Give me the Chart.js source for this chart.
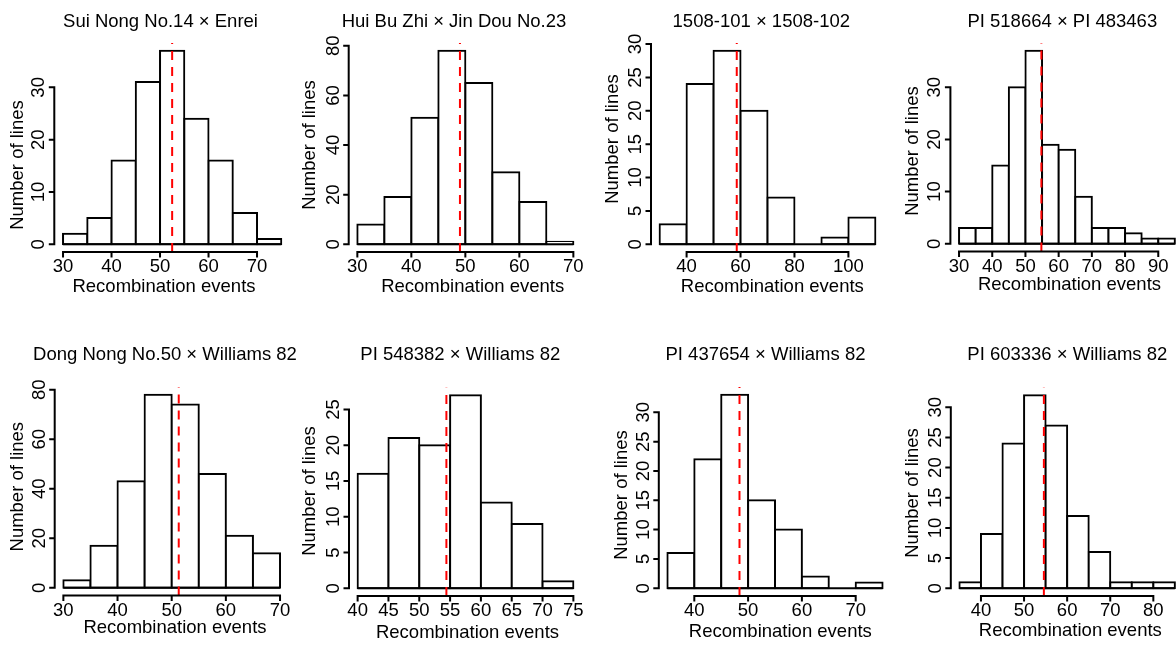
<!DOCTYPE html>
<html>
<head>
<meta charset="utf-8">
<script src="https://cdn.jsdelivr.net/npm/chart.js@4.4.1/dist/chart.umd.min.js"></script>
<style>
  html, body { margin: 0; padding: 0; background: #fff; }
  body { width: 1176px; height: 646px; overflow: hidden; position: relative; }
  canvas.panel { position: absolute; }
</style>
</head>
<body>
<script>
// --- data: recombination events per RIL population ---
const titles = [
  'Sui Nong No.14 × Enrei',
  'Hui Bu Zhi × Jin Dou No.23',
  '1508-101 × 1508-102',
  'PI 518664 × PI 483463',
  'Dong Nong No.50 × Williams 82',
  'PI 548382 × Williams 82',
  'PI 437654 × Williams 82',
  'PI 603336 × Williams 82'
];
const binStarts = [30, 30, 30, 30, 30, 40, 35, 35];
const binWidths = [5, 5, 10, 5, 5, 5, 5, 5];

const countsSuiNong = [2, 5, 16, 31, 37, 24, 16, 6, 1];
const countsHuiBuZhi = [8, 19, 51, 78, 65, 29, 17, 1];
const counts1508 = [3, 24, 29, 20, 7, 0, 1, 4];
const countsPI518664 = [3, 3, 15, 30, 37, 19, 18, 9, 3, 3, 2, 1, 1];
const countsDongNong = [3, 17, 43, 78, 74, 46, 21, 14];
const countsPI548382 = [16, 21, 20, 27, 12, 9, 1];
const countsPI437654 = [6, 22, 33, 15, 10, 2, 0, 1];
const countsPI603336 = [1, 9, 24, 32, 27, 12, 6, 1, 1, 1];
const counts = [countsSuiNong, countsHuiBuZhi, counts1508, countsPI518664,
                countsDongNong, countsPI548382, countsPI437654, countsPI603336];

// population means (dashed red line)
const means = [52.5, 49.0, 58.6, 54.8, 51.3, 54.4, 48.4, 54.6];

const xTicks = [
  [30, 40, 50, 60, 70],
  [30, 40, 50, 60, 70],
  [40, 60, 80, 100],
  [30, 40, 50, 60, 70, 80, 90],
  [30, 40, 50, 60, 70],
  [40, 45, 50, 55, 60, 65, 70, 75],
  [40, 50, 60, 70],
  [40, 50, 60, 70, 80]
];
const yTicks = [
  [0, 10, 20, 30],
  [0, 20, 40, 60, 80],
  [0, 5, 10, 15, 20, 25, 30],
  [0, 10, 20, 30],
  [0, 20, 40, 60, 80],
  [0, 5, 10, 15, 20, 25],
  [0, 5, 10, 15, 20, 25, 30],
  [0, 5, 10, 15, 20, 25, 30]
];

// --- layout (page pixels) ---
// plot region [left, top, right, bottom]
const plotBoxes = [
  [54.3, 43, 290, 252], [348.7, 43, 582, 252], [651, 43, 884, 252], [950.4, 43, 1183.5, 251.5],
  [54.7, 387, 288.7, 595.5], [349, 387.5, 582, 596], [658.8, 387, 891.2, 596], [950.8, 387.5, 1183.5, 596]
];
const rowTops = [0, 0, 0, 0, 323, 323, 323, 323];
const titlePos = [[160.5, 26.5], [454, 26.5], [761.3, 26.5], [1062.3, 26.5],
                  [165, 360.3], [460.3, 360.3], [765.5, 360.3], [1067.3, 360.3]];
const xLabelPos = [[164, 291.5], [472.7, 291.5], [772.3, 291.5], [1069.5, 290],
                   [175, 633.3], [467.5, 638.3], [780.3, 636.7], [1070.3, 636]];
const yLabelPos = [[18.3, 165], [310, 145], [612.7, 139], [913.3, 151],
                   [18.3, 486.7], [310, 491], [621.7, 495], [913.3, 493]];

const FONT = '18.5px "Liberation Sans", Arial, sans-serif';
const TICK_LEN = 4.5;

// base-R style axes and labels
const rAxes = {
  id: 'rAxes',
  afterDatasetsDraw(chart, args, opts) {
    const p = opts.panel;
    const { ctx, chartArea } = chart;
    const xs = chart.scales.x, ys = chart.scales.y;
    ctx.save();
    ctx.strokeStyle = '#000';
    ctx.fillStyle = '#000';
    ctx.lineWidth = 2;
    ctx.lineCap = 'square';
    ctx.font = FONT;

    // x axis
    const ab = chartArea.bottom;
    const xp = xs.ticks.map(t => xs.getPixelForValue(t.value));
    ctx.beginPath();
    ctx.moveTo(xp[0], ab);
    ctx.lineTo(xp[xp.length - 1], ab);
    xp.forEach(px => { ctx.moveTo(px, ab); ctx.lineTo(px, ab + TICK_LEN); });
    ctx.stroke();
    ctx.textAlign = 'center';
    ctx.textBaseline = 'alphabetic';
    xs.ticks.forEach((t, k) => ctx.fillText(String(t.value), xp[k], ab + 20));

    // y axis
    const al = chartArea.left;
    const yp = ys.ticks.map(t => ys.getPixelForValue(t.value));
    ctx.beginPath();
    ctx.moveTo(al, yp[0]);
    ctx.lineTo(al, yp[yp.length - 1]);
    yp.forEach(py => { ctx.moveTo(al, py); ctx.lineTo(al - TICK_LEN, py); });
    ctx.stroke();
    ys.ticks.forEach((t, k) => {
      ctx.save();
      ctx.translate(al - 10, yp[k]);
      ctx.rotate(-Math.PI / 2);
      ctx.fillText(String(t.value), 0, 0);
      ctx.restore();
    });

    // title and axis titles
    const ox = opts.ox, oy = opts.oy;
    ctx.fillText(titles[p], titlePos[p][0] - ox, titlePos[p][1] - oy);
    ctx.fillText('Recombination events', xLabelPos[p][0] - ox, xLabelPos[p][1] - oy);
    ctx.save();
    ctx.translate(yLabelPos[p][0] - ox, yLabelPos[p][1] - oy);
    ctx.rotate(-Math.PI / 2);
    ctx.textBaseline = 'middle';
    ctx.fillText('Number of lines', 0, 0);
    ctx.restore();

    ctx.restore();
  }
};

function drawPanel(p) {
  const [L, T, R, B] = plotBoxes[p];
  const ox = Math.floor(L) - 62;
  const oy = rowTops[p];
  const w = Math.ceil(R) + 10 - ox;
  const h = 323;

  const canvas = document.createElement('canvas');
  canvas.className = 'panel';
  canvas.width = w;
  canvas.height = h;
  canvas.style.left = ox + 'px';
  canvas.style.top = oy + 'px';
  canvas.style.width = w + 'px';
  canvas.style.height = h + 'px';
  document.body.appendChild(canvas);

  const start = binStarts[p], bw = binWidths[p], c = counts[p];
  const end = start + bw * c.length;
  const xPad = 0.04 * (end - start);
  const yMax = Math.max(...c);
  const yLo = -0.04 * yMax, yHi = 1.04 * yMax;

  new Chart(canvas.getContext('2d'), {
    type: 'bar',
    data: {
      datasets: [
        {
          type: 'line',
          label: 'mean',
          data: [{ x: means[p], y: yLo }, { x: means[p], y: yHi }],
          borderColor: '#ff0000',
          borderWidth: 2,
          borderDash: [9, 7],
          pointRadius: 0,
          fill: false,
          order: 0
        },
        {
          type: 'line',
          label: 'baseline',
          data: [{ x: start, y: 0 }, { x: end, y: 0 }],
          borderColor: '#000',
          borderWidth: 2,
          pointRadius: 0,
          fill: false,
          order: 1
        },
        {
          type: 'bar',
          label: 'lines',
          data: c.map((v, i) => ({ x: start + (i + 0.5) * bw, y: v })),
          backgroundColor: '#fff',
          borderColor: '#000',
          borderWidth: 2,
          borderSkipped: false,
          inflateAmount: 1,
          barPercentage: 1,
          categoryPercentage: 1,
          order: 2
        }
      ]
    },
    options: {
      responsive: false,
      animation: false,
      events: [],
      layout: {
        padding: { left: L - ox, top: T - oy, right: ox + w - R, bottom: oy + h - B }
      },
      scales: {
        x: {
          type: 'linear',
          display: false,
          offset: false,
          min: start - xPad,
          max: end + xPad,
          afterBuildTicks: s => { s.ticks = xTicks[p].map(v => ({ value: v })); }
        },
        y: {
          type: 'linear',
          display: false,
          min: yLo,
          max: yHi,
          afterBuildTicks: s => { s.ticks = yTicks[p].map(v => ({ value: v })); }
        }
      },
      plugins: {
        legend: { display: false },
        tooltip: { enabled: false },
        rAxes: { panel: p, ox: ox, oy: oy }
      }
    },
    plugins: [rAxes]
  });
}

for (let p = 0; p < titles.length; p++) drawPanel(p);
</script>
</body>
</html>
